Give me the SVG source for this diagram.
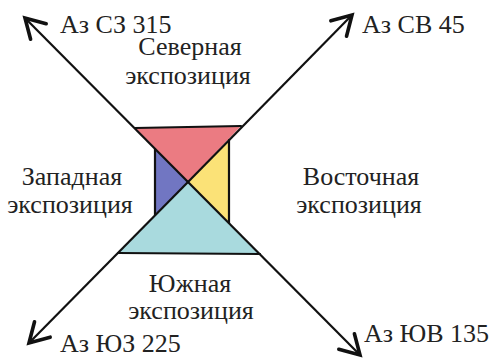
<svg xmlns="http://www.w3.org/2000/svg" width="504" height="359" viewBox="0 0 504 359">
  <style>
    text { font-family: "Liberation Serif", "Times New Roman", serif; font-size: 26px; fill: #222; }
    .mid { text-anchor: middle; }
    .edge { stroke: #111; stroke-width: 2.2; fill: none; stroke-linecap: round; }
    .axis { stroke: #111; stroke-width: 2.2; fill: none; }
  </style>
  <defs>
    <marker id="chev" markerUnits="userSpaceOnUse" markerWidth="30" markerHeight="30" refX="0" refY="0" viewBox="-24 -15 30 30" orient="auto">
      <path d="M -19 -11 L 0 0 L -19 11" fill="none" stroke="#111" stroke-width="3.6" stroke-linejoin="miter" stroke-linecap="round"/>
    </marker>
  </defs>

  <!-- exposure sectors -->
  <g id="north-sector">
    <polygon points="135,128 241,126 188,182" fill="#eb7b82"/>
  </g>
  <g id="west-sector">
    <polygon points="155,149 188,182 155,215" fill="#7176c2"/>
  </g>
  <g id="east-sector">
    <polygon points="229,140 188,182 229,223" fill="#fbe277"/>
  </g>
  <g id="south-sector">
    <polygon points="188,182 118,253 260,254" fill="#a9dade"/>
  </g>

  <!-- outline edges and azimuth axes -->
  <g id="connectors">
    <line class="edge" x1="135" y1="128" x2="241" y2="126"/>
    <line class="edge" x1="155" y1="149" x2="155" y2="215"/>
    <line class="edge" x1="229" y1="140" x2="229" y2="223"/>
    <line class="edge" x1="118" y1="253" x2="260" y2="254"/>
    <line class="axis" x1="188" y1="182" x2="25" y2="18" marker-end="url(#chev)"/>
    <line class="axis" x1="188" y1="182" x2="360" y2="355" marker-end="url(#chev)"/>
    <line class="axis" x1="188" y1="182" x2="352" y2="15" marker-end="url(#chev)"/>
    <line class="axis" x1="188" y1="182" x2="29" y2="343" marker-end="url(#chev)"/>
  </g>

  <!-- azimuth labels -->
  <g id="az-nw"><text x="60" y="33">Аз СЗ 315</text></g>
  <g id="az-ne"><text x="362" y="33">Аз СВ 45</text></g>
  <g id="az-sw"><text x="60" y="352">Аз ЮЗ 225</text></g>
  <g id="az-se"><text x="364" y="342">Аз ЮВ 135</text></g>

  <!-- exposure labels -->
  <g id="north-label">
    <text class="mid" x="190" y="55">Северная</text>
    <text class="mid" x="188" y="84">экспозиция</text>
  </g>
  <g id="west-label">
    <text class="mid" x="72" y="185">Западная</text>
    <text class="mid" x="70" y="213">экспозиция</text>
  </g>
  <g id="east-label">
    <text class="mid" x="361" y="185">Восточная</text>
    <text class="mid" x="359" y="213">экспозиция</text>
  </g>
  <g id="south-label">
    <text class="mid" x="190" y="292">Южная</text>
    <text class="mid" x="191" y="319">экспозиция</text>
  </g>
</svg>
